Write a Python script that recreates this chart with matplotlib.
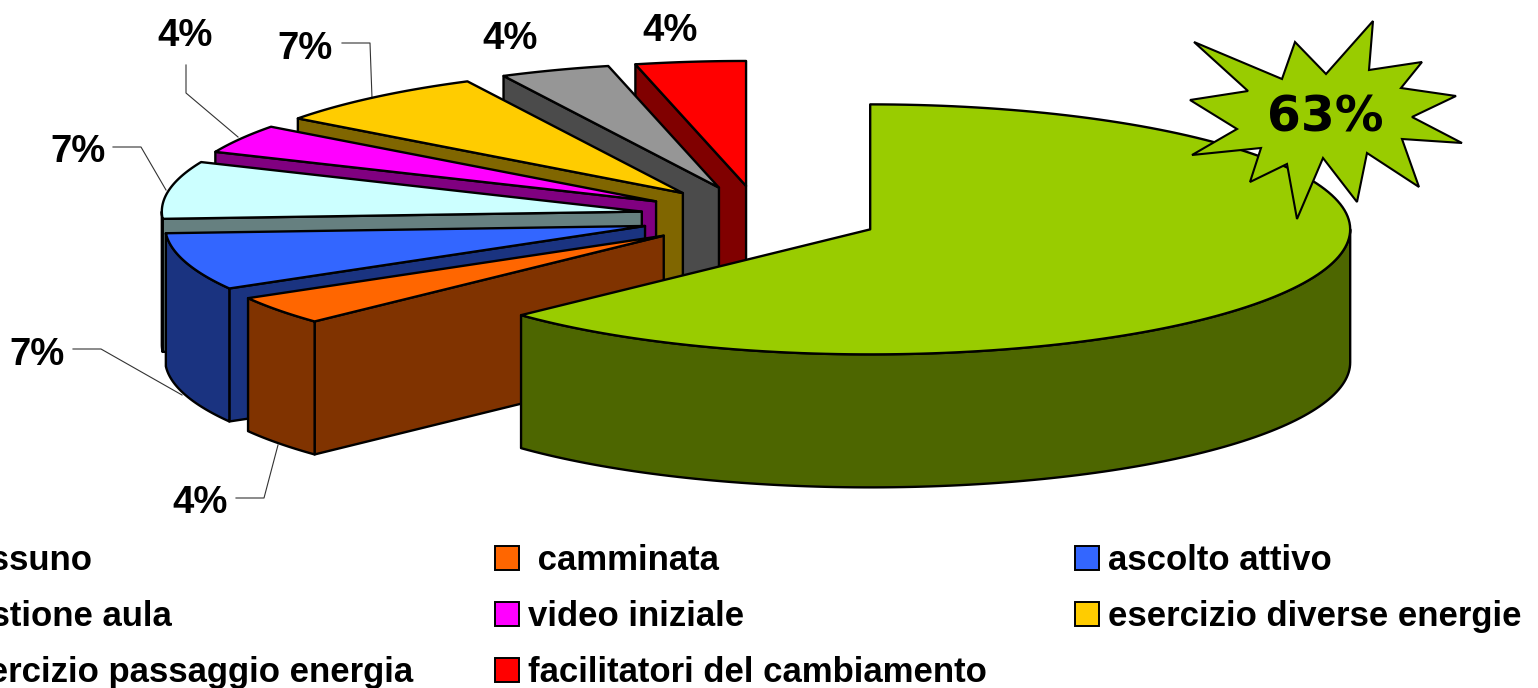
import numpy as np
import matplotlib
matplotlib.use("Agg")
import matplotlib.pyplot as plt
from matplotlib.colors import to_rgb
from matplotlib.patches import Polygon, Rectangle

categories = ["nessuno", " camminata", "ascolto attivo", "gestione aula", "video iniziale",
              "esercizio diverse energie", "esercizio passaggio energia", "facilitatori del cambiamento"]
# answers out of 27, this gives the 63% / 7% / 4% on the chart
values = [17, 1, 2, 2, 1, 2, 1, 1]
colors = ["#99CC00", "#FF6600", "#3366FF", "#CCFFFF", "#FF00FF", "#FFCC00", "#969696", "#FF0000"]

# pie geometry in pixels
cx, cy = 760, 217
rx, ry = 480, 125
depth = 133
explode = 0.25
EDGE = 1.7

# label centre, then leader line (empty if none)
label_pos = [(1325, 118), (200, 503), (37, 355), (78, 152), (185, 36), (305, 49), (510, 39), (670, 31)]
leaders = [[],
           [(236, 498), (264, 498), (278, 445)],
           [(73, 349), (101, 349), (182, 395)],
           [(113, 147), (141, 147), (166, 190)],
           [(186, 65), (186, 93), (238, 137)],
           [(342, 43), (370, 43), (372, 98)],
           [], []]

star_x = [1373, 1369, 1422, 1401, 1456, 1412, 1462, 1402, 1419, 1367, 1357, 1323,
          1297, 1287, 1250, 1261, 1192, 1237, 1190, 1248, 1194, 1282, 1295, 1326]
star_y = [21, 70, 62, 88, 96, 117, 143, 139, 187, 153, 202, 158,
          219, 164, 182, 148, 155, 129, 100, 91, 42, 79, 42, 74]

legend_x = [-50, 528, 1108]
legend_base = [570, 626, 682]

plt.rcParams['font.family'] = ['Liberation Sans', 'DejaVu Sans']

fig = plt.figure(figsize=(15.38, 6.88), dpi=100)
ax = fig.add_axes([0, 0, 1, 1])
ax.set_xlim(0, 1538)
ax.set_ylim(688, 0)
ax.axis("off")


def point(x0, y0, a):
    # a is degrees clockwise from 12 o'clock
    t = np.radians(a)
    return x0 + rx * np.sin(t), y0 - ry * np.cos(t)


def draw_slice(start, end, color, z):
    mid = np.radians((start + end) / 2)
    x0 = cx + explode * rx * np.sin(mid)
    y0 = cy - explode * ry * np.cos(mid)
    dark = tuple(c * 0.5 for c in to_rgb(color))

    # radial walls, only the ones turned to the viewer
    for a, show in ((start, np.sin(np.radians(start)) < 0), (end, np.sin(np.radians(end)) > 0)):
        if show:
            xa, ya = point(x0, y0, a)
            wall = [(x0, y0), (xa, ya), (xa, ya + depth), (x0, y0 + depth)]
            ax.add_patch(Polygon(wall, fc=dark, ec="black", lw=EDGE, joinstyle="round", zorder=z))

    # front part of the rim
    a0, a1 = max(start, 90), min(end, 270)
    if a1 > a0:
        aa = np.linspace(a0, a1, 120)
        xs, ys = point(x0, y0, aa)
        rim = np.concatenate([np.c_[xs, ys], np.c_[xs[::-1], ys[::-1] + depth]])
        ax.add_patch(Polygon(rim, fc=dark, ec="black", lw=EDGE, joinstyle="round", zorder=z))

    # top
    aa = np.linspace(start, end, 160)
    xs, ys = point(x0, y0, aa)
    top = np.vstack([[x0, y0], np.c_[xs, ys]])
    ax.add_patch(Polygon(top, fc=color, ec="black", lw=EDGE, joinstyle="round", zorder=z + 0.5))


angles = np.cumsum([0] + values) / sum(values) * 360
# back to front: red first, green last
for i in range(len(values) - 1, 0, -1):
    draw_slice(angles[i], angles[i + 1], colors[i], 10 + len(values) - i)
draw_slice(angles[0], angles[1], colors[0], 30)

ax.add_patch(Polygon(np.c_[star_x, star_y], fc=colors[0], ec="black", lw=1.5, joinstyle="miter", zorder=40))

for i, v in enumerate(values):
    x, y = label_pos[i]
    pct = f"{round(100 * v / sum(values))}%"
    if i == 0:
        ax.text(x, y, pct, fontsize=35, fontweight="bold", family="DejaVu Sans",
                ha="center", va="center", color="black", zorder=41)
    else:
        ax.text(x, y, pct, fontsize=27.5, fontweight="bold", ha="center", va="center", color="black", zorder=41)
    if leaders[i]:
        lx, ly = zip(*leaders[i])
        ax.plot(lx, ly, color="#333333", lw=0.8, zorder=5)

for i, name in enumerate(categories):
    col = i % 3
    row = i // 3
    if col > 0:
        ax.add_patch(Rectangle((legend_x[col] - 33, legend_base[row] - 24), 24, 24,
                               fc=colors[i], ec="black", lw=1.4, zorder=5))
    # the first column runs off the left side of the picture, as in the original
    ax.text(legend_x[col], legend_base[row], name, fontsize=25, fontweight="bold",
            ha="left", va="baseline", color="black")

fig.savefig("out.png", dpi=100)
